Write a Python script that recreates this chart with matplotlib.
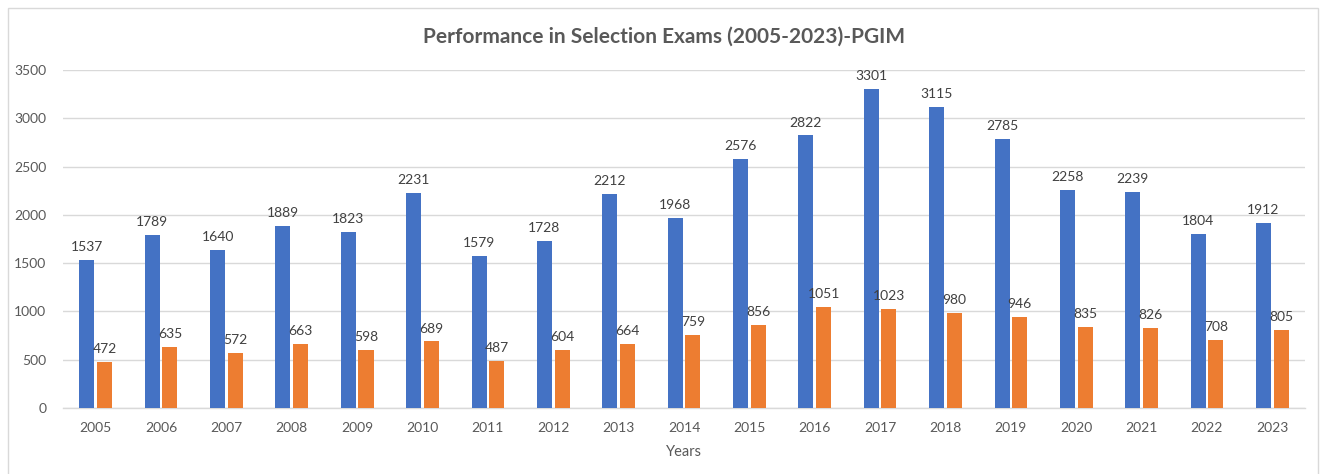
import matplotlib
matplotlib.use('Agg')
from matplotlib import pyplot as plt
from matplotlib.patches import Rectangle
import numpy as np

years = ['2005', '2006', '2007', '2008', '2009', '2010', '2011', '2012', '2013', '2014',
         '2015', '2016', '2017', '2018', '2019', '2020', '2021', '2022', '2023']
applied = [1537, 1789, 1640, 1889, 1823, 2231, 1579, 1728, 2212, 1968,
           2576, 2822, 3301, 3115, 2785, 2258, 2239, 1804, 1912]
selected = [472, 635, 572, 663, 598, 689, 487, 604, 664, 759,
            856, 1051, 1023, 980, 946, 835, 826, 708, 805]
yticks = [0, 500, 1000, 1500, 2000, 2500, 3000, 3500]

blue = '#4472c4'
orange = '#ed7d31'
grey = '#595959'

plt.rcParams['font.family'] = ['Lato', 'DejaVu Sans']

fig = plt.figure(figsize=(13.26, 4.74), dpi=100)
# chart border like the office chart frame
fig.patches.append(Rectangle((8 / 1326, -0.01), 1310 / 1326, 1 - 8 / 474 + 0.01,
                             transform=fig.transFigure, fill=False,
                             edgecolor='#d9d9d9', linewidth=1))
ax = fig.add_axes([63 / 1326, 1 - 408 / 474, (1305 - 63) / 1326, (408 - 70) / 474])

x = np.arange(len(years))
w = 0.23
off = 0.135
b1 = ax.bar(x - off, applied, w, color=blue, zorder=3)
b2 = ax.bar(x + off, selected, w, color=orange, zorder=3)

for rect, v in zip(b1, applied):
    ax.annotate(str(v), (rect.get_x() + rect.get_width() / 2, v), xytext=(0, 5),
                textcoords='offset points', ha='center', va='bottom',
                fontsize=10, color='#404040')
for rect, v in zip(b2, selected):
    ax.annotate(str(v), (rect.get_x() + rect.get_width() / 2, v), xytext=(0, 5),
                textcoords='offset points', ha='center', va='bottom',
                fontsize=10, color='#404040')

ax.set_xlim(-0.5, len(years) - 0.5)
ax.set_ylim(0, 3500)
ax.set_yticks(yticks)
ax.set_xticks(x)
ax.set_xticklabels(years)
ax.tick_params(axis='both', length=0, labelsize=10, labelcolor=grey)
ax.tick_params(axis='x', pad=10)
ax.tick_params(axis='y', pad=12)
ax.grid(axis='y', color='#d9d9d9', linewidth=1, zorder=0)
for s in ['top', 'right', 'left']:
    ax.spines[s].set_visible(False)
ax.spines['bottom'].set_color('#d9d9d9')
ax.spines['bottom'].set_linewidth(1)

ax.set_xlabel('Years', fontsize=10.5, color=grey, labelpad=8)
fig.text(664 / 1326, 1 - 37 / 474, 'Performance in Selection Exams (2005-2023)-PGIM',
         ha='center', va='center', fontsize=15, fontweight='bold', color=grey)

fig.savefig('out.png', dpi=100)
